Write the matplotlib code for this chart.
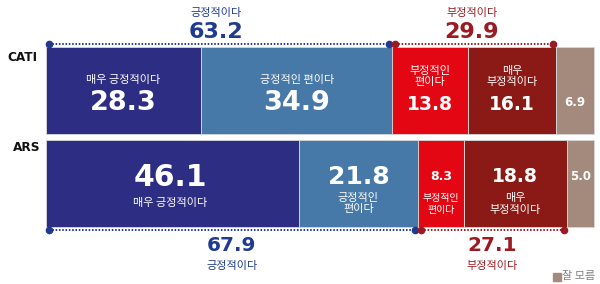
import matplotlib
matplotlib.use("Agg")
import matplotlib.pyplot as plt

plt.rcParams['font.family'] = ['Noto Sans CJK KR', 'DejaVu Sans']
plt.rcParams['font.weight'] = 'medium'

groups = ["CATI", "ARS"]
categories = ["매우 긍정적이다", "긍정적인 편이다", "부정적인 편이다", "매우 부정적이다", "잘 모름"]
cati_values = [28.3, 34.9, 13.8, 16.1, 6.9]
ars_values = [46.1, 21.8, 8.3, 18.8, 5.0]
cati_totals = [63.2, 29.9]
ars_totals = [67.9, 27.1]
total_labels = ["긍정적이다", "부정적이다"]

colors = ["#2D2E83", "#4679A8", "#E30613", "#8B1A16", "#A38A7C"]
pos_text = "#1F3A8F"
neg_text = "#9A1B22"
NUMF = "DejaVu Sans"

W, H = 600, 284
fig = plt.figure(figsize=(W / 100, H / 100), dpi=100)
ax = fig.add_axes([0, 0, 1, 1])
scale = 5.48  # px per percent
x0 = 46
ax.set_xlim(-x0 / scale, (W - x0) / scale)
ax.set_ylim(H, 0)
ax.axis("off")

bar_y = [90, 183]
bar_h = 87

def draw_bar(vals, yc):
    left = 0
    for v, c in zip(vals, colors):
        ax.barh(yc, v, left=left, height=bar_h, color=c, edgecolor="#d8d8d8", linewidth=0.6)
        left += v

draw_bar(cati_values, bar_y[0])
draw_bar(ars_values, bar_y[1])

# group labels
ax.text(-8 / scale, 57.5, groups[0], ha="right", va="center", fontsize=8.7, fontweight="bold",
        family=NUMF, color="#111111")
ax.text(-6 / scale, 147.5, groups[1], ha="right", va="center", fontsize=8.7, fontweight="bold",
        family=NUMF, color="#111111")

W_ = "white"
def cum(vals, i):
    return sum(vals[:i])

def mid(vals, i):
    return cum(vals, i) + vals[i] / 2

def num(x, y, v, size, col=W_):
    ax.text(x, y, f"{v:.1f}", ha="center", va="center", fontsize=size, fontweight="bold",
            family=NUMF, color=col)

# CATI segment labels
c = cati_values
ax.text(mid(c, 0), 80, categories[0], ha="center", va="center", fontsize=8, color=W_)
num(mid(c, 0), 103, c[0], 19.5)
ax.text(mid(c, 1), 80, categories[1], ha="center", va="center", fontsize=8, color=W_)
num(mid(c, 1), 103, c[1], 19.5)
ax.text(mid(c, 2), 76.5, "부정적인\n편이다", ha="center", va="center", fontsize=8, color=W_, linespacing=1.15)
num(mid(c, 2), 104, c[2], 13.5)
ax.text(mid(c, 3), 76.5, "매우\n부정적이다", ha="center", va="center", fontsize=8, color=W_, linespacing=1.15)
num(mid(c, 3), 104, c[3], 13.5)
num(mid(c, 4), 102.5, c[4], 8.5)

# ARS segment labels
a = ars_values
num(mid(a, 0) - 0.4, 177, a[0], 21.5)
ax.text(mid(a, 0) - 0.4, 203, categories[0], ha="center", va="center", fontsize=8, color=W_)
num(mid(a, 1), 176.5, a[1], 18)
ax.text(mid(a, 1), 203.5, "긍정적인\n편이다", ha="center", va="center", fontsize=8, color=W_, linespacing=1.15)
num(mid(a, 2), 176.5, a[2], 9)
ax.text(mid(a, 2), 204, "부정적인\n편이다", ha="center", va="center", fontsize=7.2, color=W_, linespacing=1.25)
num(mid(a, 3), 177, a[3], 13.5)
ax.text(mid(a, 3), 204, "매우\n부정적이다", ha="center", va="center", fontsize=8, color=W_, linespacing=1.15)
num(mid(a, 4), 177, a[4], 8.5)

# dotted bracket lines
inset = 3 / scale
def bracket(start, end, y, col):
    ax.plot([start + inset, end - inset], [y, y], color=col, linewidth=1.4,
            linestyle=(0, (0.8, 0.9)), solid_capstyle="butt")
    ax.plot([start + inset, end - inset], [y, y], linestyle="none", marker="o",
            markersize=4.5, color=col)

bracket(0, cati_totals[0], 44, pos_text)
bracket(cati_totals[0], cati_totals[0] + cati_totals[1], 44, neg_text)
bracket(0, ars_totals[0], 230, pos_text)
bracket(ars_totals[0], ars_totals[0] + ars_totals[1], 230, neg_text)

# totals top (CATI)
ax.text(31.0, 13, total_labels[0], ha="center", va="center", fontsize=8, color=pos_text)
num(31.0, 31.5, cati_totals[0], 16, pos_text)
ax.text(77.7, 13, total_labels[1], ha="center", va="center", fontsize=8, color=neg_text)
num(77.7, 31.5, cati_totals[1], 16, neg_text)

# totals bottom (ARS)
num(33.9, 245.5, ars_totals[0], 14.5, pos_text)
ax.text(33.9, 266, total_labels[0], ha="center", va="center", fontsize=8, color=pos_text)
num(81.4, 245.5, ars_totals[1], 14.5, neg_text)
ax.text(81.4, 266, total_labels[1], ha="center", va="center", fontsize=8, color=neg_text)

# legend for 잘 모름
ax.plot([(557 - x0) / scale], [276.5], marker="s", markersize=6, color=colors[4], linestyle="none")
ax.text((562 - x0) / scale, 276.5, categories[4], ha="left", va="center", fontsize=8, color="#808080")

fig.savefig("out.png", dpi=100)
